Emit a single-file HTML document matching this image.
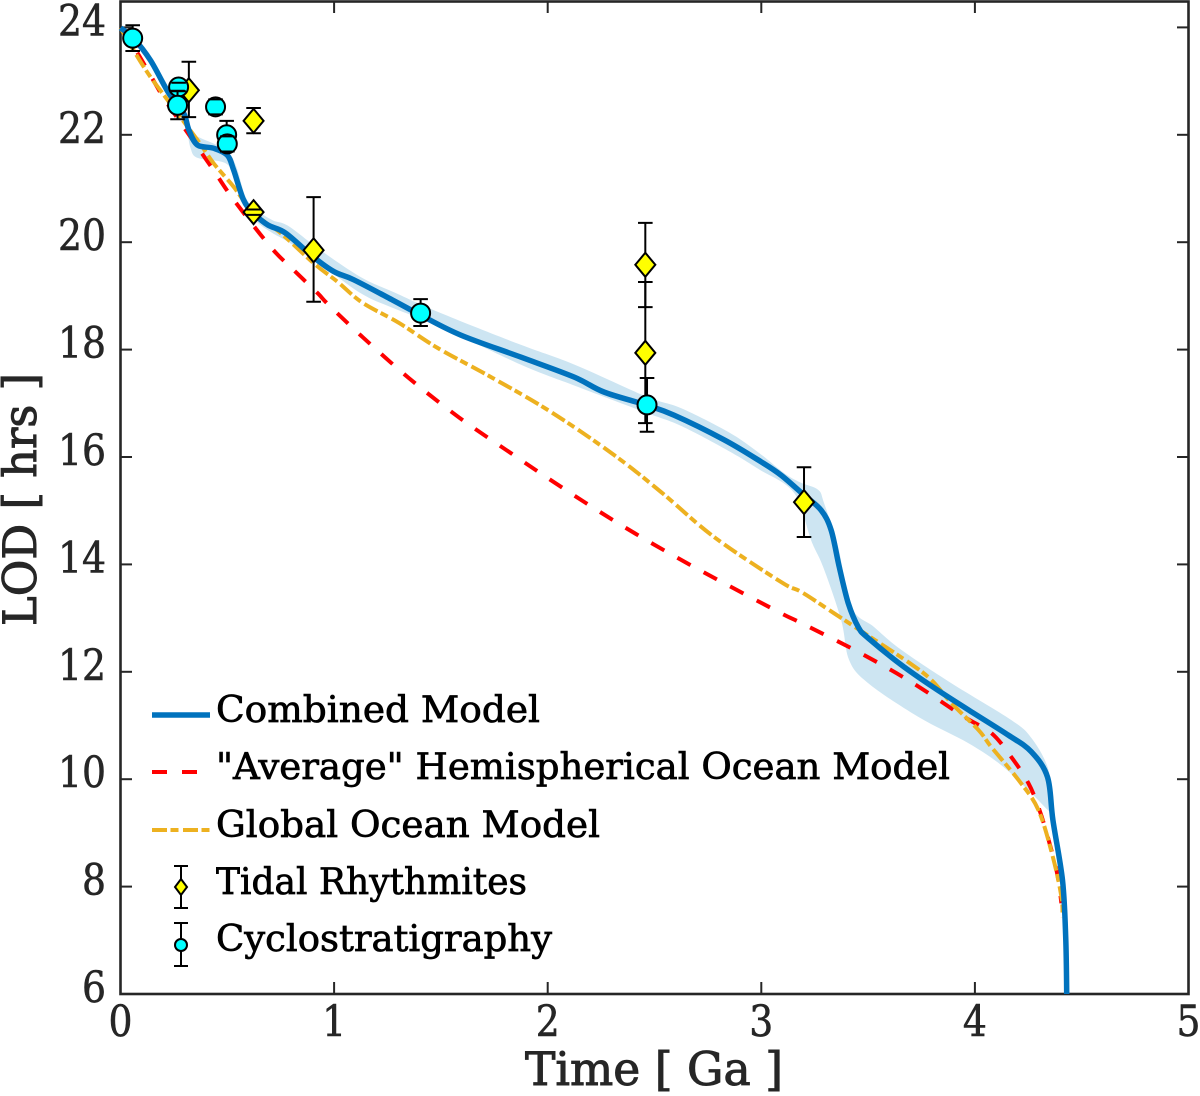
<!DOCTYPE html>
<html lang="en">
<head>
<meta charset="utf-8">
<title>LOD vs Time</title>
<style>
html,body{margin:0;padding:0;background:#fff;width:1200px;height:1096px;overflow:hidden}
svg{display:block}
text{font-family:"DejaVu Serif","Liberation Serif",serif;fill:#262626}
.leg{font-size:36px;fill:#000;stroke:#000;stroke-width:.7px}
.tick{font-size:43px;stroke:#262626;stroke-width:.6px}
.title{font-size:46px;stroke:#262626;stroke-width:1px}
</style>
</head>
<body>
<svg id="chart" xmlns="http://www.w3.org/2000/svg" width="1200" height="1096" viewBox="0 0 1200 1096">
  <defs><clipPath id="plot-clip"><rect x="116" y="0" width="1073" height="994"/></clipPath></defs>
  <g id="axes"></g>
  <g id="marks-band" clip-path="url(#plot-clip)"></g>
  <g id="marks-lines" clip-path="url(#plot-clip)"></g>
  <g id="marks-points"></g>
  <text class="title" x="525" y="1085" textLength="258" lengthAdjust="spacingAndGlyphs">Time [ Ga ]</text>
  <text class="title" transform="translate(36,626) rotate(-90)" x="0" y="0" textLength="253" lengthAdjust="spacingAndGlyphs">LOD [ hrs ]</text>

  <g>
    <line x1="152" x2="210" y1="715" y2="715" stroke="#0072BD" stroke-width="5.5"/>
    <text class="leg" x="216" y="722" textLength="324" lengthAdjust="spacingAndGlyphs">Combined Model</text>
    <line x1="152" x2="200" y1="772" y2="772" stroke="#FF0000" stroke-width="4" stroke-dasharray="15,15"/>
    <text class="leg" x="216" y="779" textLength="734" lengthAdjust="spacingAndGlyphs">"Average" Hemispherical Ocean Model</text>
    <line x1="152" x2="210" y1="830" y2="830" stroke="#EDB120" stroke-width="4" stroke-dasharray="15,3.5,8,4.5"/>
    <text class="leg" x="216" y="837" textLength="384" lengthAdjust="spacingAndGlyphs">Global Ocean Model</text>
    <g stroke="#000" stroke-width="2">
      <path d="M181 866V908M174 866H188M174 908H188" fill="none"/>
      <path d="M181 879L187 887L181 895L175 887Z" fill="#FFFF00"/>
    </g>
    <text class="leg" x="216" y="894" textLength="311" lengthAdjust="spacingAndGlyphs">Tidal Rhythmites</text>
    <g stroke="#000" stroke-width="2">
      <path d="M181 923V966M174 923H188M174 966H188" fill="none"/>
      <circle cx="181" cy="945" r="6" fill="#00FFFF"/>
    </g>
    <text class="leg" x="216" y="951" textLength="336" lengthAdjust="spacingAndGlyphs">Cyclostratigraphy</text>
  </g>
</svg>
<script>
// ---------- tick labels ----------
const xTicks = [0, 1, 2, 3, 4, 5];
const yTicks = [6, 8, 10, 12, 14, 16, 18, 20, 22, 24];

// ---------- combined model ----------
const combinedTime = [0,.06,.14,.225,.295,.32,.36,.435,.50,.53,.576,.623,.69,.773,.904,1.0,1.092,1.275,1.406,1.593,1.874,2.123,2.263,2.46,2.591,2.826,2.999,3.093,3.2,3.28,3.327,3.365,3.407,3.454,3.50,3.655,3.81,3.97,4.157,4.264,4.34,4.365,4.41,4.425,4.43];
const combinedLOD = [23.99,23.80,23.39,22.78,22.41,22.09,21.81,21.75,21.62,21.34,20.79,20.54,20.32,20.17,19.72,19.45,19.30,18.92,18.64,18.27,17.86,17.49,17.21,16.97,16.78,16.32,15.91,15.66,15.29,15.01,14.64,13.95,13.28,12.83,12.63,12.13,11.70,11.29,10.82,10.51,10.04,9.24,8.12,7.06,6.0];

// ---------- combined model uncertainty ----------
const upperTime = [.314,.375,.492,.539,.586,.637,.712,.787,.937,1.125,1.279,1.50,1.874,2.132,2.465,2.624,2.844,2.985,3.107,3.186,3.266,3.294,3.36,3.421,3.529,3.655,3.889,4.171,4.264,4.34,4.365];
const upperLOD = [22.05,21.94,21.72,21.44,20.84,20.60,20.41,20.30,19.85,19.35,19.07,18.68,18.09,17.71,17.12,16.91,16.47,16.09,15.70,15.52,15.39,15.14,14.32,13.21,12.83,12.41,11.79,11.10,10.77,10.23,9.61];
const lowerTime = [.314,.328,.361,.492,.539,.586,.637,.712,.787,.937,1.125,1.279,1.50,1.874,2.132,2.465,2.624,2.844,2.985,3.154,3.233,3.29,3.374,3.411,3.50,3.735,3.97,4.124,4.264,4.34,4.365];
const lowerLOD = [22.05,21.75,21.57,21.47,21.16,20.67,20.38,20.17,20.00,19.59,19.05,18.77,18.42,17.72,17.32,16.82,16.58,16.12,15.78,15.33,14.45,13.95,12.96,12.22,11.79,11.16,10.67,10.26,9.74,9.43,9.33];

// ---------- hemispherical ocean model ----------
const hemiTime = [0,.08,.20,.272,.361,.436,.53,.703,.811,.923,.975,1.134,1.35,1.584,1.828,2.071,2.32,2.568,2.826,3.093,3.186,3.454,3.702,3.95,4.077,4.171,4.25,4.302,4.345,4.385,4.405];
const hemiLOD = [23.99,23.52,22.70,22.28,21.77,21.34,20.79,19.91,19.48,19.05,18.83,18.23,17.47,16.74,16.07,15.42,14.79,14.21,13.65,13.09,12.91,12.37,11.81,11.16,10.86,10.41,9.93,9.43,8.87,8.25,7.69];

// ---------- global ocean model ----------
const globalTime = [0,.08,.14,.22,.361,.436,.53,.623,.75,.904,1.017,1.134,1.303,1.485,1.743,2.015,2.31,2.53,2.779,3.093,3.186,3.341,3.482,3.688,3.796,3.889,4.016,4.077,4.203,4.297,4.365,4.405,4.41];
const globalLOD = [23.99,23.45,23.08,22.65,21.90,21.47,21.03,20.54,20.17,19.61,19.26,18.87,18.50,18.03,17.47,16.84,16.04,15.35,14.51,13.67,13.49,13.09,12.72,12.18,11.85,11.42,10.92,10.60,9.99,9.43,8.55,7.81,7.43];

// ---------- tidal rhythmites ----------
const tidalTime = [.32,.623,.623,.904,2.457,2.457,3.20];
const tidalLOD = [22.83,22.26,20.56,19.85,19.58,17.94,15.16];
const tidalLow = [22.33,22.03,20.51,18.89,18.79,16.63,14.51];
const tidalHigh = [23.36,22.50,20.61,20.84,20.36,19.26,15.81];

// ---------- cyclostratigraphy ----------
const cycloTime = [.057,.272,.267,.445,.497,.50,1.405,2.465];
const cycloLOD = [23.80,22.89,22.55,22.52,22.00,21.83,18.68,16.97];
const cycloLow = [23.56,22.81,22.29,22.38,21.74,21.69,18.44,16.47];
const cycloHigh = [24.04,22.97,22.82,22.66,22.26,21.97,18.94,17.47];

const NS = 'http://www.w3.org/2000/svg';
const xScale = t => 120.5 + 213.6 * t;
const yScale = v => 994 - 53.7 * (v - 6);

function make(tag, parent, attrs) {
  const el = document.createElementNS(NS, tag);
  for (const k in attrs) el.setAttribute(k, attrs[k]);
  parent.appendChild(el);
  return el;
}

function toPoints(ts, vs) {
  return ts.map((t, i) => [xScale(t), yScale(vs[i])]);
}

function smooth(p, moveFirst) {
  let d = (moveFirst ? 'M' : 'L') + p[0][0].toFixed(1) + ' ' + p[0][1].toFixed(1);
  for (let i = 0; i < p.length - 1; i++) {
    const a = p[Math.max(i - 1, 0)], b = p[i], c = p[i + 1], e = p[Math.min(i + 2, p.length - 1)];
    const c1x = b[0] + (c[0] - a[0]) / 6, c1y = b[1] + (c[1] - a[1]) / 6;
    const c2x = c[0] - (e[0] - b[0]) / 6, c2y = c[1] - (e[1] - b[1]) / 6;
    d += 'C' + c1x.toFixed(1) + ' ' + c1y.toFixed(1) + ' ' + c2x.toFixed(1) + ' ' + c2y.toFixed(1) + ' ' + c[0].toFixed(1) + ' ' + c[1].toFixed(1);
  }
  return d;
}

// axes
const axes = document.getElementById('axes');
const frame = make('rect', axes, { x: 120.5, y: 1.5, width: 1068, height: 992.5, fill: 'none', stroke: '#262626', 'stroke-width': 2.6 });



xTicks.forEach(v => {
  const x = xScale(v);
  const tb = make('line', axes, { x1: x, x2: x, y1: 994, y2: 982, stroke: '#262626', 'stroke-width': 2 });
  
  
  const tt = make('line', axes, { x1: x, x2: x, y1: 1, y2: 13, stroke: '#262626', 'stroke-width': 2 });
  
  
  const lab = make('text', axes, { x: x - 12, y: 1036, class: 'tick', textLength: 24, lengthAdjust: 'spacingAndGlyphs' });
  
  
  lab.textContent = v;
});

yTicks.forEach(v => {
  const y = yScale(v);
  const tl = make('line', axes, { x1: 120, x2: 132, y1: y, y2: y, stroke: '#262626', 'stroke-width': 2 });
  
  
  const tr = make('line', axes, { x1: 1188, x2: 1177, y1: y, y2: y, stroke: '#262626', 'stroke-width': 2 });
  
  
  const w = v < 10 ? 24 : 48;
  const lab = make('text', axes, { x: 106 - w, y: y + 8, class: 'tick', textLength: w, lengthAdjust: 'spacingAndGlyphs' });
  
  
  lab.textContent = v;
});

// band
const bandGroup = document.getElementById('marks-band');
const bandPath = make('path', bandGroup, {
  d: smooth(toPoints(upperTime, upperLOD), true) + smooth(toPoints(lowerTime, lowerLOD).reverse(), false) + 'Z',
  fill: '#CDE5F2', stroke: 'none'
});



// lines
const lineGroup = document.getElementById('marks-lines');
const hemiLine = make('path', lineGroup, {
  d: smooth(toPoints(hemiTime, hemiLOD), true), fill: 'none', stroke: '#FF0000',
  'stroke-width': 4, 'stroke-dasharray': '15,15'
});



const globalLine = make('path', lineGroup, {
  d: smooth(toPoints(globalTime, globalLOD), true), fill: 'none', stroke: '#EDB120',
  'stroke-width': 4, 'stroke-dasharray': '15,3.5,8,4.5'
});



const combinedLine = make('path', lineGroup, {
  d: smooth(toPoints(combinedTime, combinedLOD), true), fill: 'none', stroke: '#0072BD',
  'stroke-width': 5.5, 'stroke-linejoin': 'round'
});



// points
const pointGroup = document.getElementById('marks-points');
function whisker(parent, t, lo, hi) {
  const x = xScale(t);
  return make('path', parent, {
    d: 'M' + x + ' ' + yScale(lo) + 'V' + yScale(hi),
    fill: 'none', stroke: '#000', 'stroke-width': 2
  });
}
function caps(parent, t, lo, hi) {
  const x = xScale(t), y1 = yScale(lo), y2 = yScale(hi);
  return make('path', parent, {
    d: 'M' + (x - 7.3) + ' ' + y1 + 'H' + (x + 7.3) + 'M' + (x - 7.3) + ' ' + y2 + 'H' + (x + 7.3),
    fill: 'none', stroke: '#000', 'stroke-width': 2
  });
}

tidalTime.forEach((t, i) => {
  const g = make('g', pointGroup, {});
  
  
  whisker(g, t, tidalLow[i], tidalHigh[i]);
  const x = xScale(t), y = yScale(tidalLOD[i]);
  make('path', g, {
    d: 'M' + x + ' ' + (y - 12) + 'L' + (x + 10) + ' ' + y + 'L' + x + ' ' + (y + 12) + 'L' + (x - 10) + ' ' + y + 'Z',
    fill: '#FFFF00', stroke: '#000', 'stroke-width': 2
  });
  caps(g, t, tidalLow[i], tidalHigh[i]);
});

cycloTime.forEach((t, i) => {
  const g = make('g', pointGroup, {});
  
  
  whisker(g, t, cycloLow[i], cycloHigh[i]);
  make('circle', g, { cx: xScale(t), cy: yScale(cycloLOD[i]), r: 9.5, fill: '#00FFFF', stroke: '#000', 'stroke-width': 2 });
  caps(g, t, cycloLow[i], cycloHigh[i]);
});
</script>
</body>
</html>
